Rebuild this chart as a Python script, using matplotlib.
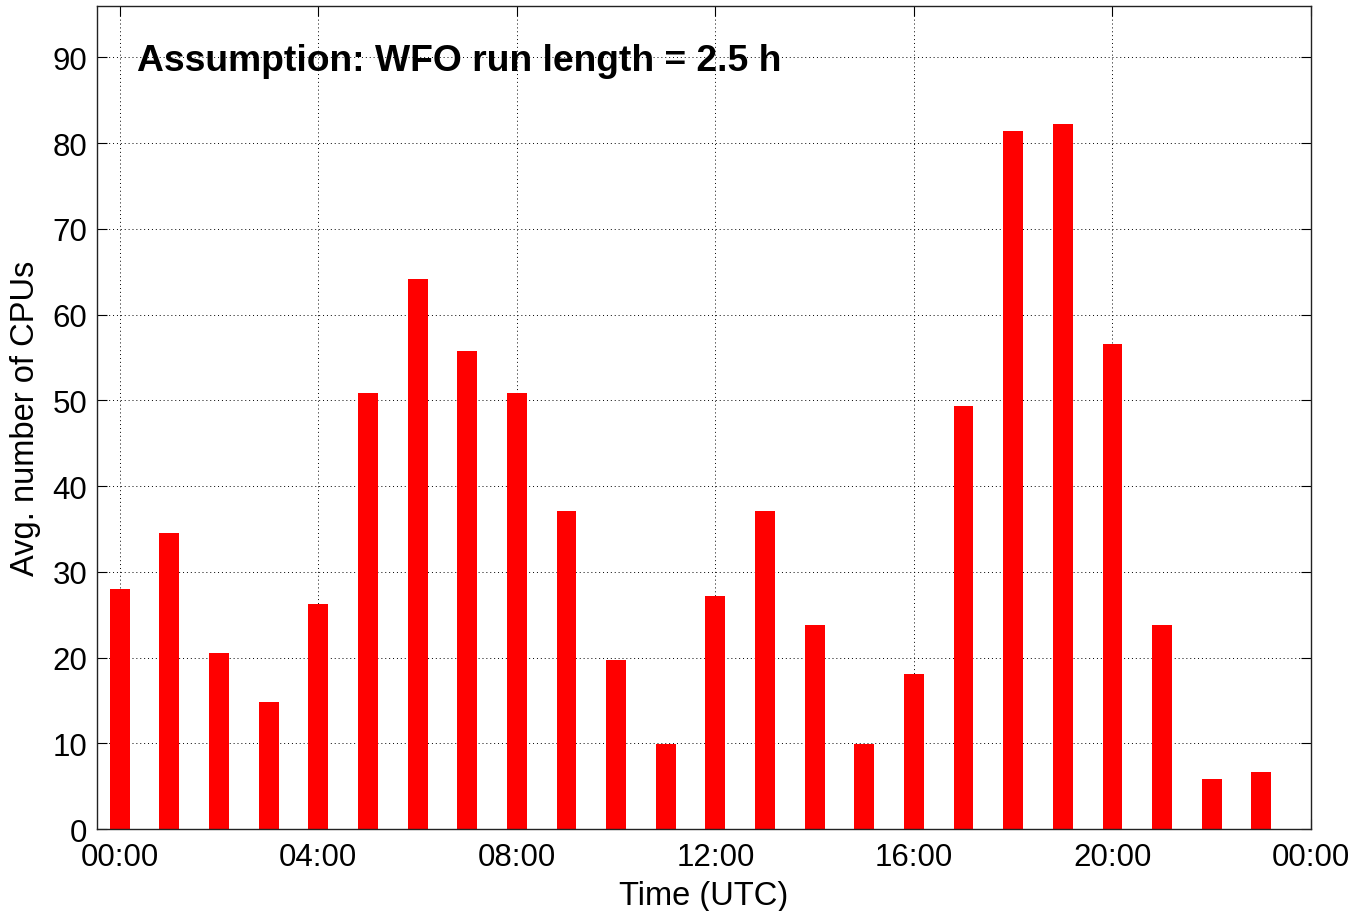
import matplotlib.pyplot as plt

plt.rcParams['font.family'] = ['Liberation Sans', 'DejaVu Sans']

# hour of day (UTC) at which each bar starts
hours = list(range(24))
avg_cpus = [28.0, 34.5, 20.5, 14.8, 26.3, 50.9, 64.1, 55.8, 50.9, 37.1, 19.7, 9.9,
            27.2, 37.1, 23.8, 9.9, 18.1, 49.3, 81.4, 82.2, 56.6, 23.8, 5.8, 6.6]
xtick_hours = [0, 4, 8, 12, 16, 20, 24]
ytick_vals = list(range(0, 100, 10))
title_text = 'Assumption: WFO run length = 2.5 h'

fig = plt.figure(figsize=(13.56, 9.12), dpi=100)
ax = fig.add_axes([0.0715, 0.0899, 0.8953, 0.9024])

ax.bar(hours, avg_cpus, width=0.4, color='#ff0000', zorder=2)

ax.set_xlim(-0.46, 24)
ax.set_ylim(0, 96)
ax.set_xticks(xtick_hours)
ax.set_xticklabels(['%02d:00' % (h % 24) for h in xtick_hours])
ax.set_yticks(ytick_vals)

ax.tick_params(direction='in', top=True, right=True, length=7, width=0.8,
               labelsize=22.5)
ax.tick_params(axis='x', pad=9)
ax.tick_params(axis='y', pad=7)
ax.grid(True, linestyle=(0, (1, 3)), color='black', linewidth=0.7, zorder=1)
ax.set_axisbelow(True)
for s in ax.spines.values():
    s.set_color('#222222')
    s.set_linewidth(1.0)

ax.set_xlabel('Time (UTC)', fontsize=23.5, labelpad=6)
ax.set_ylabel('Avg. number of CPUs', fontsize=23.5, labelpad=8)
ax.text(0.033, 0.922, title_text, transform=ax.transAxes, fontsize=26.8,
        fontweight='bold', va='baseline', ha='left')

fig.savefig('out.png', dpi=100)
